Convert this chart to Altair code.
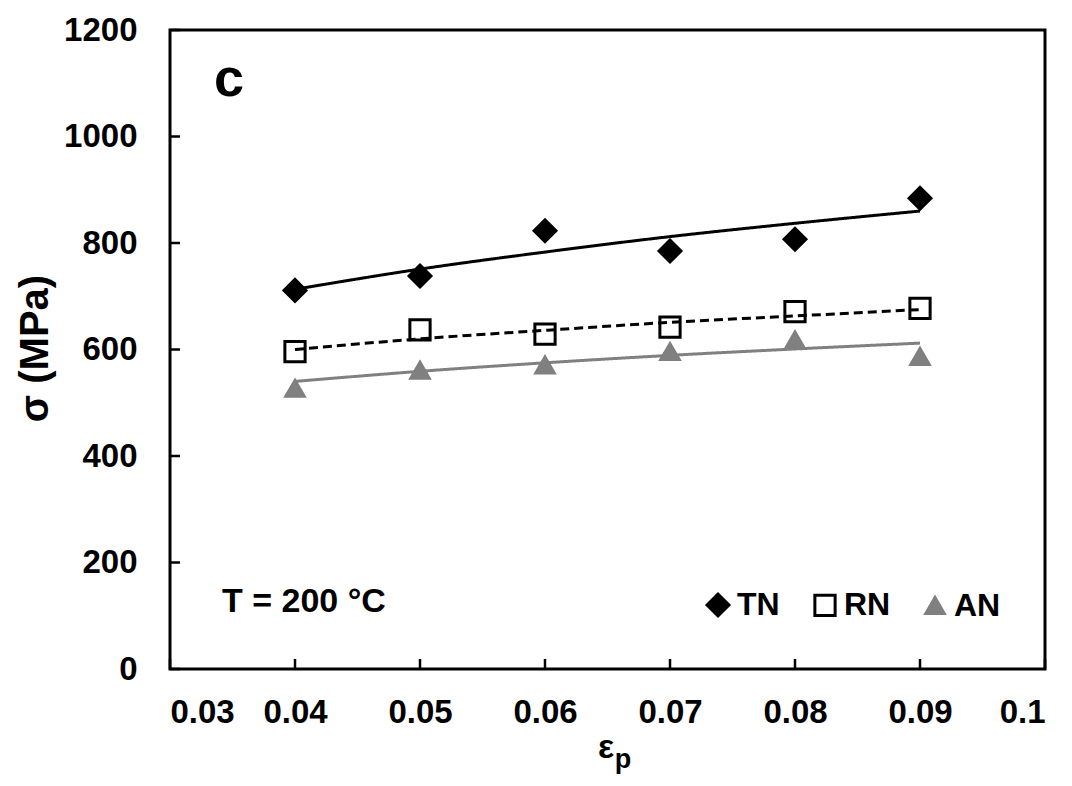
import altair as alt
import pandas as pd

# ---- data ----
strain = [0.04, 0.05, 0.06, 0.07, 0.08, 0.09]
tn_vals = [711, 738, 823, 785, 807, 884]
rn_vals = [596, 637, 629, 642, 671, 677]
an_vals = [527, 561, 571, 596, 618, 587]
tn_fit = [713, 751, 783, 812, 837, 860]
rn_fit = [600, 620, 636, 651, 663, 675]
an_fit = [540, 559, 575, 589, 601, 612]
series = ["TN", "RN", "AN"]
x_ticks = [0.03, 0.04, 0.05, 0.06, 0.07, 0.08, 0.09, 0.1]
y_ticks = [0, 200, 400, 600, 800, 1000, 1200]

FONT = "Liberation Sans"

pts = pd.DataFrame(
    [{"eps": e, "sigma": v, "series": s}
     for s, vals in zip(series, [tn_vals, rn_vals, an_vals])
     for e, v in zip(strain, vals)]
)
fits = pd.DataFrame(
    [{"eps": e, "sigma": v, "series": s}
     for s, vals in zip(series, [tn_fit, rn_fit, an_fit])
     for e, v in zip(strain, vals)]
)

xs = alt.Scale(domain=[0.03, 0.1], nice=False, zero=False)
ys = alt.Scale(domain=[0, 1200], nice=False)

xax = alt.Axis(values=x_ticks, format=".2~f", title=None, labelPadding=27)
yax = alt.Axis(values=y_ticks, format="d", title="σ (MPa)", labelPadding=33,
               titleX=-135, titleY=318, titleAngle=270, titleBaseline="middle",
               titleAlign="center", titleFontSize=40)

base_x = alt.X("eps:Q", scale=xs, axis=xax)
base_y = alt.Y("sigma:Q", scale=ys, axis=yax)


def fit_line(name, color, dash, width):
    return alt.Chart(fits).transform_filter(alt.datum.series == name).mark_line(
        color=color, strokeDash=dash, strokeWidth=width, interpolate="monotone"
    ).encode(x=base_x, y=base_y)


l_tn = fit_line("TN", "black", [1, 0], 3)
l_rn = fit_line("RN", "black", [9, 5], 3)
l_an = fit_line("AN", "#808080", [1, 0], 3)

points = alt.Chart(pts).mark_point(opacity=1, strokeWidth=3, filled=False).encode(
    x=base_x,
    y=base_y,
    shape=alt.Shape("series:N", sort=series,
                    scale=alt.Scale(domain=series, range=["diamond", "square", "triangle-up"]),
                    legend=alt.Legend(title=None)),
    fill=alt.Fill("series:N", sort=series,
                  scale=alt.Scale(domain=series, range=["black", "transparent", "#808080"]),
                  legend=alt.Legend(title=None)),
    stroke=alt.Stroke("series:N", sort=series,
                      scale=alt.Scale(domain=series, range=["black", "black", "#808080"]),
                      legend=alt.Legend(title=None)),
    size=alt.Size("series:N", sort=series,
                  scale=alt.Scale(domain=series, range=[480, 340, 440]),
                  legend=alt.Legend(title=None)),
)

tick_y = alt.Chart(pd.DataFrame({"v": y_ticks})).mark_rule(color="black", strokeWidth=2.5).encode(
    y=alt.Y("v:Q", scale=ys, axis=yax), x=alt.value(0), x2=alt.value(10)
)
tick_x = alt.Chart(pd.DataFrame({"v": x_ticks})).mark_rule(color="black", strokeWidth=2.5).encode(
    x=alt.X("v:Q", scale=xs, axis=xax), y=alt.value(639), y2=alt.value(629)
)

txt_c = alt.Chart(pd.DataFrame({"t": ["c"]})).mark_text(
    font=FONT, fontWeight="bold", fontSize=54, align="left", baseline="middle", color="black"
).encode(text="t:N", x=alt.value(44), y=alt.value(50))
txt_T = alt.Chart(pd.DataFrame({"t": ["T = 200 °C"]})).mark_text(
    font=FONT, fontWeight="bold", fontSize=34, align="left", baseline="middle", color="black"
).encode(text="t:N", x=alt.value(52), y=alt.value(572))
txt_eps = alt.Chart(pd.DataFrame({"t": ["ε"]})).mark_text(
    font=FONT, fontWeight="bold", fontSize=34, align="center", baseline="alphabetic", color="black"
).encode(text="t:N", x=alt.value(436), y=alt.value(728))
txt_p = alt.Chart(pd.DataFrame({"t": ["p"]})).mark_text(
    font=FONT, fontWeight="bold", fontSize=27, align="center", baseline="alphabetic", color="black"
).encode(text="t:N", x=alt.value(453), y=alt.value(738))

chart = alt.layer(
    l_an, l_rn, l_tn, points, tick_y, tick_x, txt_c, txt_T, txt_eps, txt_p
).properties(
    width=875, height=639,
    autosize=alt.AutoSizeParams(type="none"),
    padding={"left": 162, "top": 22, "right": 19, "bottom": 116},
).configure_view(
    stroke="black", strokeWidth=3
).configure_axis(
    labelFont=FONT, labelFontWeight="bold", labelFontSize=33, labelColor="black",
    titleFont=FONT, titleFontWeight="bold", titleColor="black",
    domain=False, ticks=False, grid=False
).configure_legend(
    orient="none", legendX=532, legendY=559, direction="horizontal",
    labelFont=FONT, labelFontWeight="bold", labelFontSize=32, labelColor="black",
    symbolStrokeWidth=3, columnPadding=28, labelOffset=3
)

chart.save("out.html", embed_options={"renderer": "svg", "actions": False})
